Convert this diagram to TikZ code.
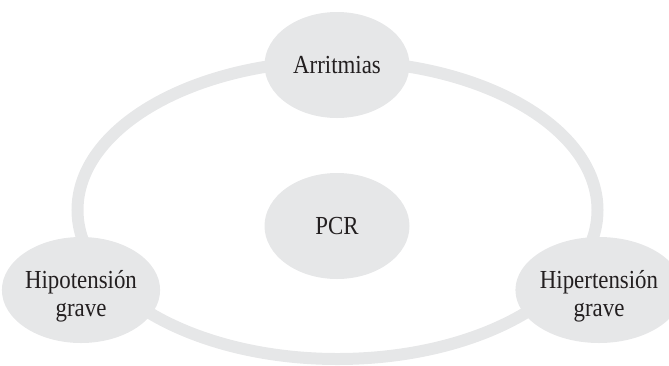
\documentclass[tikz,border=0pt]{standalone}
\usepackage{fontspec}
\setmainfont{Liberation Serif}[FakeStretch=0.88]
\usetikzlibrary{shapes.geometric}
\definecolor{ringgray}{HTML}{E6E7E8}
\definecolor{inkdark}{HTML}{231F20}
% strut that lowers a two-line label inside its bubble
\newcommand{\lowstrut}{\rule{0pt}{31pt}}
\tikzset{
  bubble/.style={ellipse, fill=ringgray, draw=none, inner sep=0pt,
    minimum width=145pt, minimum height=106pt, text=inkdark,
    font=\fontsize{26}{28}\selectfont, align=center},
  ring/.style={draw=ringgray, line width=12pt}
}
\begin{document}
\begin{tikzpicture}[x=1pt, y=-1pt]
  \useasboundingbox (0,0) rectangle (669,365);
  % cycle joining the three conditions
  \coordinate (hub) at (337.5,210);
  \draw[ring] (hub) ellipse [x radius=260, y radius=149];
  % conditions on the cycle and the central event
  \node[bubble] (arr) at (337,65) {Arritmias};
  \node[bubble] (pcr) at (337,226) {PCR};
  \node[bubble] (hipo) at (81,290) {\lowstrut Hipotensión\\grave};
  \node[bubble] (hiper) at (599,290) {\lowstrut Hipertensión\\grave};
\end{tikzpicture}
\end{document}
